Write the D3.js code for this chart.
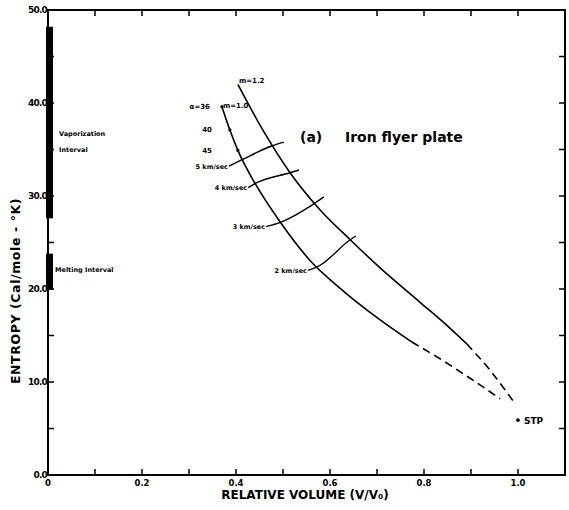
<!DOCTYPE html>
<html><head><meta charset="utf-8">
<script src="https://cdn.jsdelivr.net/npm/d3@7"></script>
<style>
html,body{margin:0;padding:0;background:#fff;}
svg{display:block;}
text{font-family:"DejaVu Sans",sans-serif;font-weight:bold;fill:#000;}
</style></head>
<body><svg id="chart" width="569" height="510"></svg>
<script>
// ---- data ----
const xTickValues = [0, 0.2, 0.4, 0.6, 0.8, 1.0];
const xTickLabels = ["0", "0.2", "0.4", "0.6", "0.8", "1.0"];
const yTickValues = [0, 10, 20, 30, 40, 50];
const yTickLabels = ["0.0", "10.0", "20.0", "30.0", "40.0", "50.0"];

// m = 1.2 curve (relative volume, entropy)
const m12SolidV = [0.404, 0.457, 0.515, 0.579, 0.643, 0.706, 0.791, 0.855, 0.891];
const m12SolidS = [42.0, 37.1, 32.5, 28.5, 25.3, 22.3, 18.6, 15.8, 14.1];
const m12DashV = [0.891, 0.940, 0.989];
const m12DashS = [14.1, 11.3, 8.0];
// m = 1.0 curve
const m10SolidV = [0.370, 0.387, 0.404, 0.440, 0.494, 0.557, 0.621, 0.706, 0.774];
const m10SolidS = [39.6, 37.1, 34.9, 31.4, 27.2, 23.1, 20.1, 16.7, 14.3];
const m10DashV = [0.774, 0.834, 0.898, 0.962];
const m10DashS = [14.3, 12.5, 10.4, 8.2];

// angle marks on m = 1.0 curve
const angleLabels = ["\u03b1=36", "40", "45"];
const angleV = [0.370, 0.387, 0.404];
const angleS = [39.6, 37.1, 34.9];

// flyer velocity lines
const velLabels = ["5 km/sec", "4 km/sec", "3 km/sec", "2 km/sec"];
const velV = [[0.385, 0.413, 0.477, 0.502], [0.426, 0.443, 0.515, 0.534], [0.464, 0.496, 0.564, 0.587], [0.553, 0.574, 0.643, 0.655]];
const velS = [[33.2, 33.9, 35.4, 35.8], [30.9, 31.4, 32.5, 32.8], [26.7, 27.2, 29.1, 29.9], [22.0, 22.4, 25.3, 25.7]];

// phase intervals on entropy axis
const vaporInterval = [27.6, 48.2];
const meltInterval = [19.9, 23.8];
const stp = [1.0, 5.9];

// ---- drawing ----
const svg = d3.select("#chart");
const L = 48, R = 565, T = 10, B = 475;
const x = d3.scaleLinear().domain([0, 1.1]).range([L, R]);
const y = d3.scaleLinear().domain([0, 50]).range([B, T]);
const zip = (a, b) => a.map((v, i) => [v, b[i]]);
const line = d3.line().x(d => x(d[0])).y(d => y(d[1])).curve(d3.curveMonotoneX);

// frame
svg.append("rect").attr("x", L).attr("y", T).attr("width", R - L).attr("height", B - T)
  .attr("fill", "none").attr("stroke", "#000").attr("stroke-width", 2);

// ticks (inward)
const minorX = d3.range(0, 1.1001, 0.1);
const minorY = d3.range(0, 50.001, 5);
const g = svg.append("g").attr("stroke", "#000").attr("stroke-width", 1.5);
minorX.forEach(v => {
  g.append("line").attr("x1", x(v)).attr("x2", x(v)).attr("y1", B).attr("y2", B - 6);
  g.append("line").attr("x1", x(v)).attr("x2", x(v)).attr("y1", T).attr("y2", T + 6);
});
minorY.forEach(v => {
  g.append("line").attr("x1", L).attr("x2", L + 6).attr("y1", y(v)).attr("y2", y(v));
  g.append("line").attr("x1", R).attr("x2", R - 6).attr("y1", y(v)).attr("y2", y(v));
});

// tick labels
xTickValues.forEach((v, i) => {
  svg.append("text").attr("x", x(v)).attr("y", B + 11).attr("text-anchor", "middle")
    .attr("font-size", 8.5).text(xTickLabels[i]);
});
yTickValues.forEach((v, i) => {
  svg.append("text").attr("x", L - 1).attr("y", y(v) + 3).attr("text-anchor", "end")
    .attr("font-size", 9).attr("letter-spacing", -0.8).text(yTickLabels[i]);
});

// axis titles
svg.append("text").attr("x", 305).attr("y", 499).attr("text-anchor", "middle")
  .attr("font-size", 12).text("RELATIVE VOLUME (V/V\u2080)");
svg.append("text").attr("transform", "translate(20,291) rotate(-90)").attr("text-anchor", "middle")
  .attr("font-size", 12.5).attr("letter-spacing", 0.6).text("ENTROPY (Cal/mole - \u00b0K)");

// phase intervals
svg.append("rect").attr("x", L - 2).attr("width", 7)
  .attr("y", y(vaporInterval[1])).attr("height", y(vaporInterval[0]) - y(vaporInterval[1])).attr("fill", "#000");
svg.append("rect").attr("x", L - 2).attr("width", 7)
  .attr("y", y(meltInterval[1])).attr("height", y(meltInterval[0]) - y(meltInterval[1])).attr("fill", "#000");
svg.append("text").attr("x", 59).attr("y", y(36.4)).attr("font-size", 6.5).text("Vaporization");
svg.append("text").attr("x", 59).attr("y", y(34.7)).attr("font-size", 6.5).text("Interval");
svg.append("text").attr("x", 55).attr("y", y(21.8)).attr("font-size", 6.5).text("Melting Interval");

// curves
const curveStyle = sel => sel.attr("fill", "none").attr("stroke", "#000").attr("stroke-width", 1.6);
svg.append("path").attr("d", line(zip(m12SolidV, m12SolidS))).call(curveStyle);
svg.append("path").attr("d", line(zip(m12DashV, m12DashS))).call(curveStyle).attr("stroke-dasharray", "8,5");
svg.append("path").attr("d", line(zip(m10SolidV, m10SolidS))).call(curveStyle);
svg.append("path").attr("d", line(zip(m10DashV, m10DashS))).call(curveStyle).attr("stroke-dasharray", "8,5");

// curve labels
svg.append("text").attr("x", x(m12SolidV[0]) + 1).attr("y", y(m12SolidS[0]) - 1)
  .attr("font-size", 7).text("m=1.2");
svg.append("text").attr("x", x(m10SolidV[0]) + 1).attr("y", y(m10SolidS[0]) + 1)
  .attr("font-size", 7).text("m=1.0");

// angle marks
angleV.forEach((v, i) => {
  svg.append("circle").attr("cx", x(v)).attr("cy", y(angleS[i])).attr("r", 1.6).attr("fill", "#000");
  svg.append("text").attr("x", i === 0 ? 210 : 212).attr("y", y(angleS[i]) + 2.5)
    .attr("text-anchor", "end").attr("font-size", 7).text(angleLabels[i]);
});

// velocity lines
velLabels.forEach((lab, i) => {
  const pts = zip(velV[i], velS[i]);
  svg.append("path").attr("d", line(pts)).call(curveStyle).attr("stroke-width", 1.4);
  svg.append("text").attr("x", x(velV[i][0]) - 1).attr("y", y(velS[i][0]) + 2.5)
    .attr("text-anchor", "end").attr("font-size", 6.5).text(lab);
});

// STP
svg.append("circle").attr("cx", x(stp[0])).attr("cy", y(stp[1])).attr("r", 1.8).attr("fill", "#000");
svg.append("text").attr("x", x(stp[0]) + 6).attr("y", y(stp[1]) + 3.5).attr("font-size", 9).text("STP");

// panel title
svg.append("text").attr("x", 300).attr("y", 142).attr("font-size", 14).text("(a)");
svg.append("text").attr("x", 345).attr("y", 142).attr("font-size", 14).text("Iron flyer plate");
</script>
</body></html>
